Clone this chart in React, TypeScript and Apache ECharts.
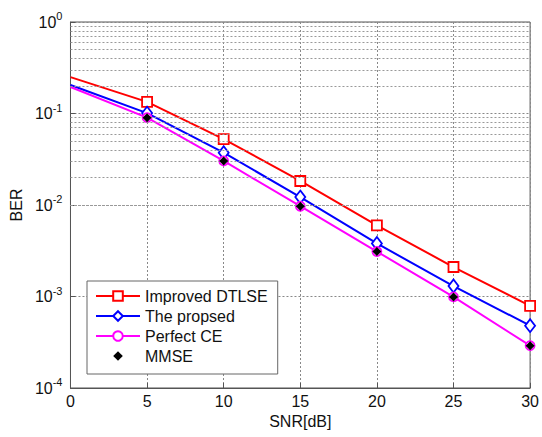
import React, { useEffect, useRef } from "react";
import * as echarts from "echarts";

const snr = [0, 5, 10, 15, 20, 25, 30];
const dtlse = [0.25, 0.134, 0.0526, 0.0183, 0.006, 0.0021, 0.00079];
const proposed = [0.205, 0.101, 0.0373, 0.0122, 0.0038, 0.0013, 0.00048];
const perfect = [0.195, 0.09, 0.0303, 0.0097, 0.0031, 0.00099, 0.00029];
const mmse = [null, 0.09, 0.0303, 0.0097, 0.0031, 0.00099, 0.00029];
const decades = [1e-4, 1e-3, 1e-2, 1e-1];
const minorMultipliers = [2, 3, 4, 5, 6, 7, 8, 9];

const FONT = "Liberation Sans, Arial, sans-serif";

function pts(vals: (number | null)[], hideFirst: boolean) {
  return vals.map((v, i) => {
    if (v === null) return [snr[i], null];
    if (hideFirst && i === 0) return { value: [snr[i], v], symbol: "none" };
    return [snr[i], v];
  });
}

export default function App() {
  const ref = useRef<HTMLDivElement>(null);
  useEffect(() => {
    if (!ref.current) return;
    const chart = echarts.init(ref.current, null, { renderer: "svg" });
    const minorLines: any[] = [];
    decades.forEach((d) =>
      minorMultipliers.forEach((m) => minorLines.push({ yAxis: d * m }))
    );
    chart.setOption({
      animation: false,
      backgroundColor: "#fff",
      grid: {
        left: 65,
        right: 9,
        top: 22,
        bottom: 49,
        show: true,
        borderColor: "#555",
        borderWidth: 1,
      },
      legend: {
        orient: "vertical",
        left: 87,
        top: 281,
        width: 191,
        backgroundColor: "#fff",
        borderColor: "#666",
        borderWidth: 1,
        borderRadius: 0,
        padding: [7, 10, 10, 8],
        itemGap: 4,
        itemWidth: 44,
        itemHeight: 12,
        textStyle: { fontFamily: FONT, fontSize: 16, color: "#111" },
        data: ["Improved DTLSE", "The propsed", "Perfect CE", "MMSE"],
      },
      xAxis: {
        type: "value",
        min: 0,
        max: 30,
        interval: 5,
        name: "SNR[dB]",
        nameLocation: "middle",
        nameGap: 24,
        nameTextStyle: { fontFamily: FONT, fontSize: 16, color: "#111" },
        axisLine: { show: true, lineStyle: { color: "#555" } },
        axisTick: { show: true, inside: true, length: 5, lineStyle: { color: "#555" } },
        axisLabel: { fontFamily: FONT, fontSize: 16, color: "#111", margin: 5 },
        splitLine: { show: true, lineStyle: { type: [2, 2], color: "#888", width: 1 } },
      },
      yAxis: {
        type: "log",
        logBase: 10,
        min: 1e-4,
        max: 1,
        name: "BER",
        nameLocation: "middle",
        nameGap: 44,
        nameTextStyle: { fontFamily: FONT, fontSize: 16, color: "#111" },
        axisLine: { show: true, lineStyle: { color: "#555" } },
        axisTick: { show: true, inside: true, length: 5, lineStyle: { color: "#555" } },
        axisLabel: {
          margin: 8,
          formatter: (v: number) => `{b|10}{e|${Math.round(Math.log10(v))}}`,
          rich: {
            b: { fontFamily: FONT, fontSize: 16, color: "#111" },
            e: { fontFamily: FONT, fontSize: 11, color: "#111", padding: [0, 0, 12, 0] },
          },
        },
        splitLine: { show: true, lineStyle: { type: [2, 2], color: "#888", width: 1 } },
      },
      series: [
        {
          name: "Improved DTLSE",
          type: "line",
          data: pts(dtlse, true),
          lineStyle: { width: 2, color: "#ff0000" },
          symbol: "rect",
          symbolSize: 10,
          itemStyle: { color: "#fff", borderColor: "#ff0000", borderWidth: 1.8 },
          z: 3,
        },
        {
          name: "The propsed",
          type: "line",
          data: pts(proposed, true),
          lineStyle: { width: 2, color: "#0000ff" },
          symbol: "diamond",
          symbolSize: [10, 13],
          itemStyle: { color: "#fff", borderColor: "#0000ff", borderWidth: 1.8 },
          z: 3,
        },
        {
          name: "Perfect CE",
          type: "line",
          data: pts(perfect, true),
          lineStyle: { width: 2, color: "#ff00ff" },
          symbol: "circle",
          symbolSize: 9,
          itemStyle: { color: "#fff", borderColor: "#ff00ff", borderWidth: 1.8 },
          z: 4,
        },
        {
          name: "MMSE",
          type: "line",
          data: pts(mmse, false),
          lineStyle: { width: 0, opacity: 0, color: "#000" },
          symbol: "diamond",
          symbolSize: 9,
          itemStyle: { color: "#000" },
          z: 5,
          markLine: {
            silent: true,
            symbol: "none",
            label: { show: false },
            lineStyle: { type: [2, 2], color: "#999", width: 1 },
            data: minorLines,
          },
        },
      ],
    });
    return () => chart.dispose();
  }, []);
  return (
    <div
      ref={ref}
      style={{ position: "absolute", left: 0, top: 0, width: 542, height: 437 }}
    />
  );
}
